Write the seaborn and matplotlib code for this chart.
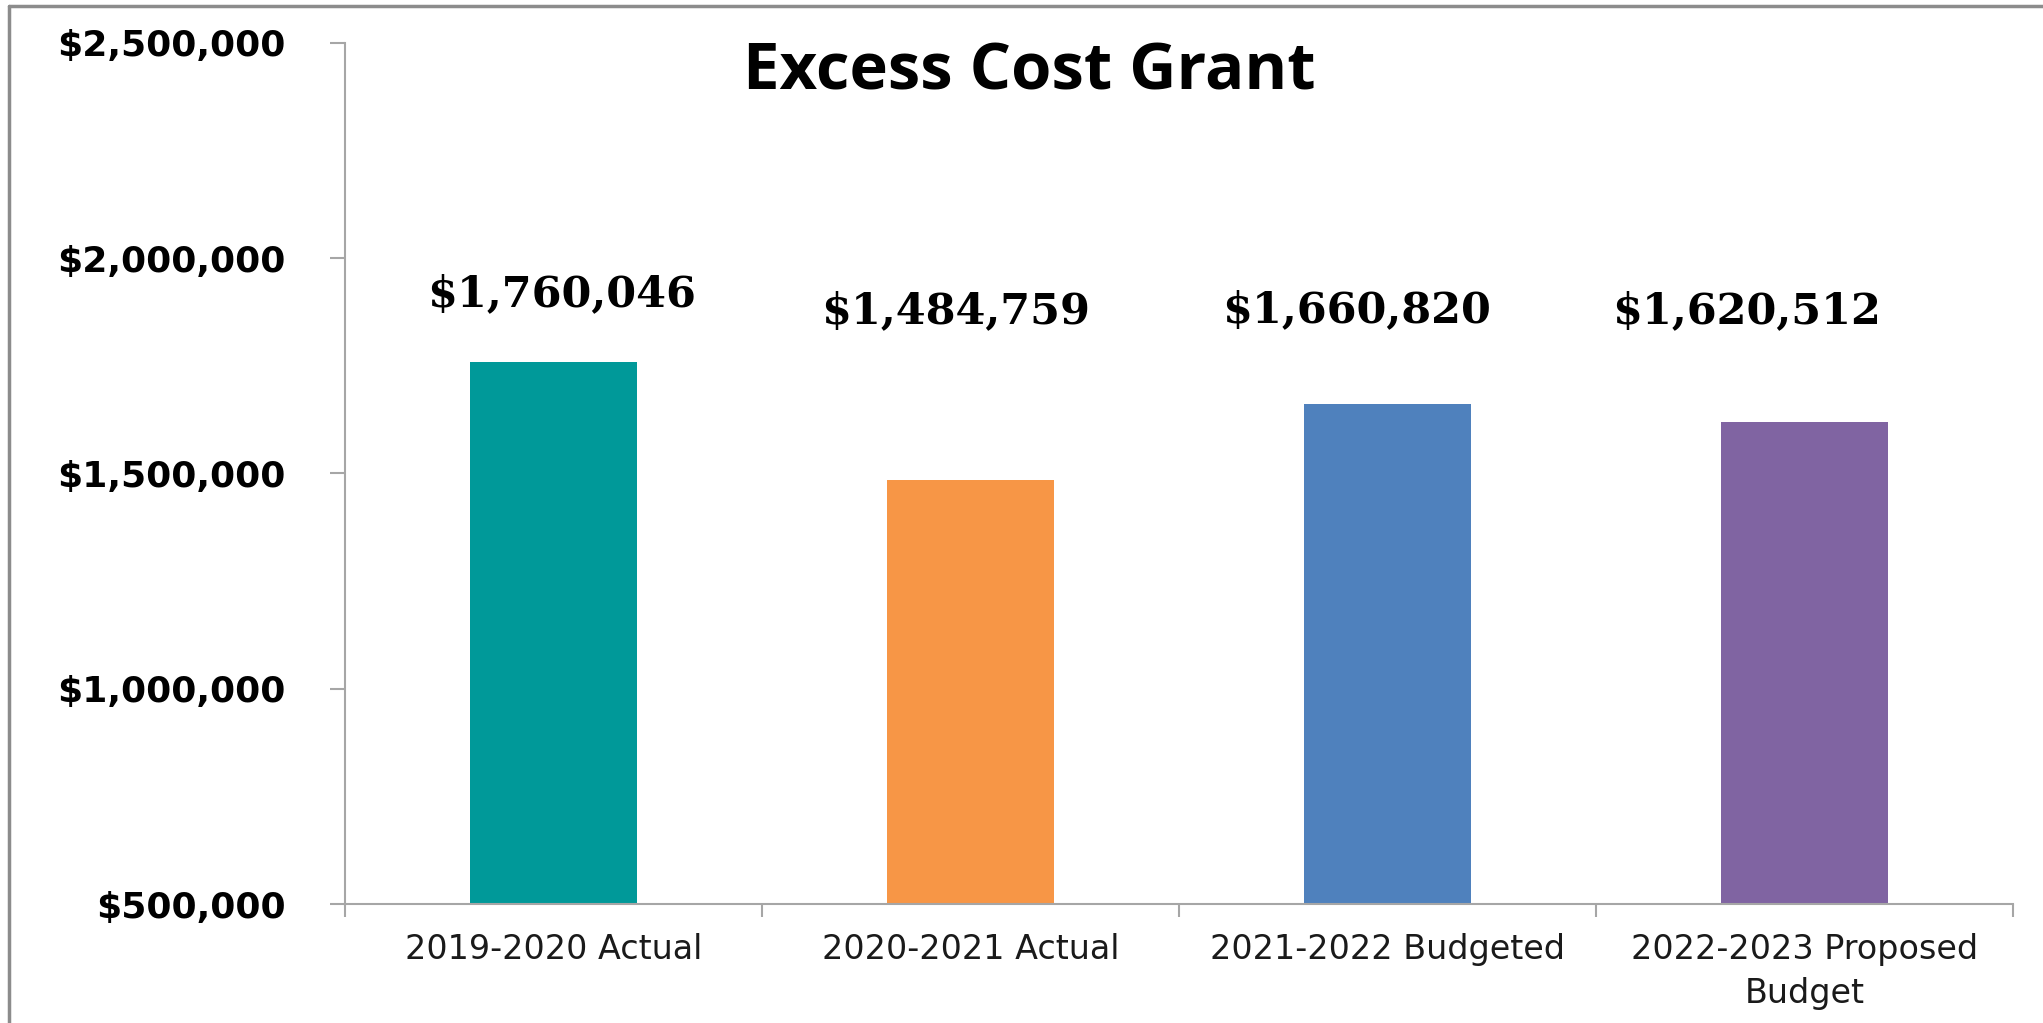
import matplotlib
matplotlib.use("Agg")
import matplotlib.pyplot as plt
from matplotlib.lines import Line2D
from matplotlib.ticker import FuncFormatter, FixedLocator
import seaborn as sns
import pandas as pd

# Chart data
categories = ["2019-2020 Actual", "2020-2021 Actual", "2021-2022 Budgeted",
              "2022-2023 Proposed\nBudget"]
amounts = [1760046, 1484759, 1660820, 1620512]
bar_colors = ["#009999", "#F79646", "#4F81BD", "#8064A2"]
y_ticks = [500000, 1000000, 1500000, 2000000, 2500000]
title = "Excess Cost Grant"

# Hand-placed value label anchors (x shift in category units, baseline in data units)
label_dx = [0.02, -0.036, -0.075, -0.14]
label_base = [1889000, 1850000, 1852000, 1850000]

sns.set_theme(style="white")
plt.rcParams["font.family"] = ["DejaVu Sans"]

df = pd.DataFrame({"category": categories, "amount": amounts})

fig = plt.figure(figsize=(20.43, 10.23), dpi=100)
ax = fig.add_axes([0.1689, 0.1163, 0.8164, 0.8417])

sns.barplot(data=df, x="category", y="amount", hue="category",
            palette=bar_colors, width=0.4, legend=False, ax=ax,
            saturation=1, linewidth=0)

ax.set_xlim(-0.5, len(categories) - 0.5)
ax.set_ylim(y_ticks[0], y_ticks[-1])
ax.set_yticks(y_ticks)
ax.yaxis.set_major_formatter(FuncFormatter(lambda v, _: f"${v:,.0f}"))
ax.set_xlabel("")
ax.set_ylabel("")

spine_gray = "#A6A6A6"
for side in ("top", "right"):
    ax.spines[side].set_visible(False)
for side in ("left", "bottom"):
    ax.spines[side].set_color(spine_gray)
    ax.spines[side].set_linewidth(1.5)

ax.tick_params(axis="y", which="major", direction="out", length=11, width=1.5,
               color=spine_gray, pad=32, left=True, labelsize=26)
for lab in ax.get_yticklabels():
    lab.set_fontweight("bold")
    lab.set_color("black")

# Category labels at bar centres, tick marks at category boundaries
ax.tick_params(axis="x", which="major", length=0, pad=21, labelsize=24,
               labelcolor="#1a1a1a")
ax.xaxis.set_minor_locator(FixedLocator([i - 0.5 for i in range(len(categories) + 1)]))
ax.tick_params(axis="x", which="minor", direction="out", length=9, width=1.5,
               color=spine_gray, bottom=True)
for lab in ax.get_xticklabels():
    lab.set_linespacing(1.42)
    lab.set_horizontalalignment("center")

# Value labels above the bars
for i, (val, dx, yb) in enumerate(zip(amounts, label_dx, label_base)):
    ax.text(i + dx, yb, f"${val:,}", ha="center", va="baseline",
            fontsize=31, fontweight="bold", family="DejaVu Serif", color="black")

fig.text(0.5037, 1 - 90 / 1023, title, ha="center", va="baseline",
         fontsize=47, fontweight="bold", family="Open Sans", color="black")

# Outer frame (left and top edges)
frame_gray = "#8C8C8C"
fig.add_artist(Line2D([9 / 2043, 9 / 2043], [0, 1 - 6 / 1023],
                      transform=fig.transFigure, color=frame_gray, linewidth=2.5))
fig.add_artist(Line2D([9 / 2043, 1], [1 - 6 / 1023, 1 - 6 / 1023],
                      transform=fig.transFigure, color=frame_gray, linewidth=2.5))

fig.savefig("out.png", dpi=100, facecolor="white")
